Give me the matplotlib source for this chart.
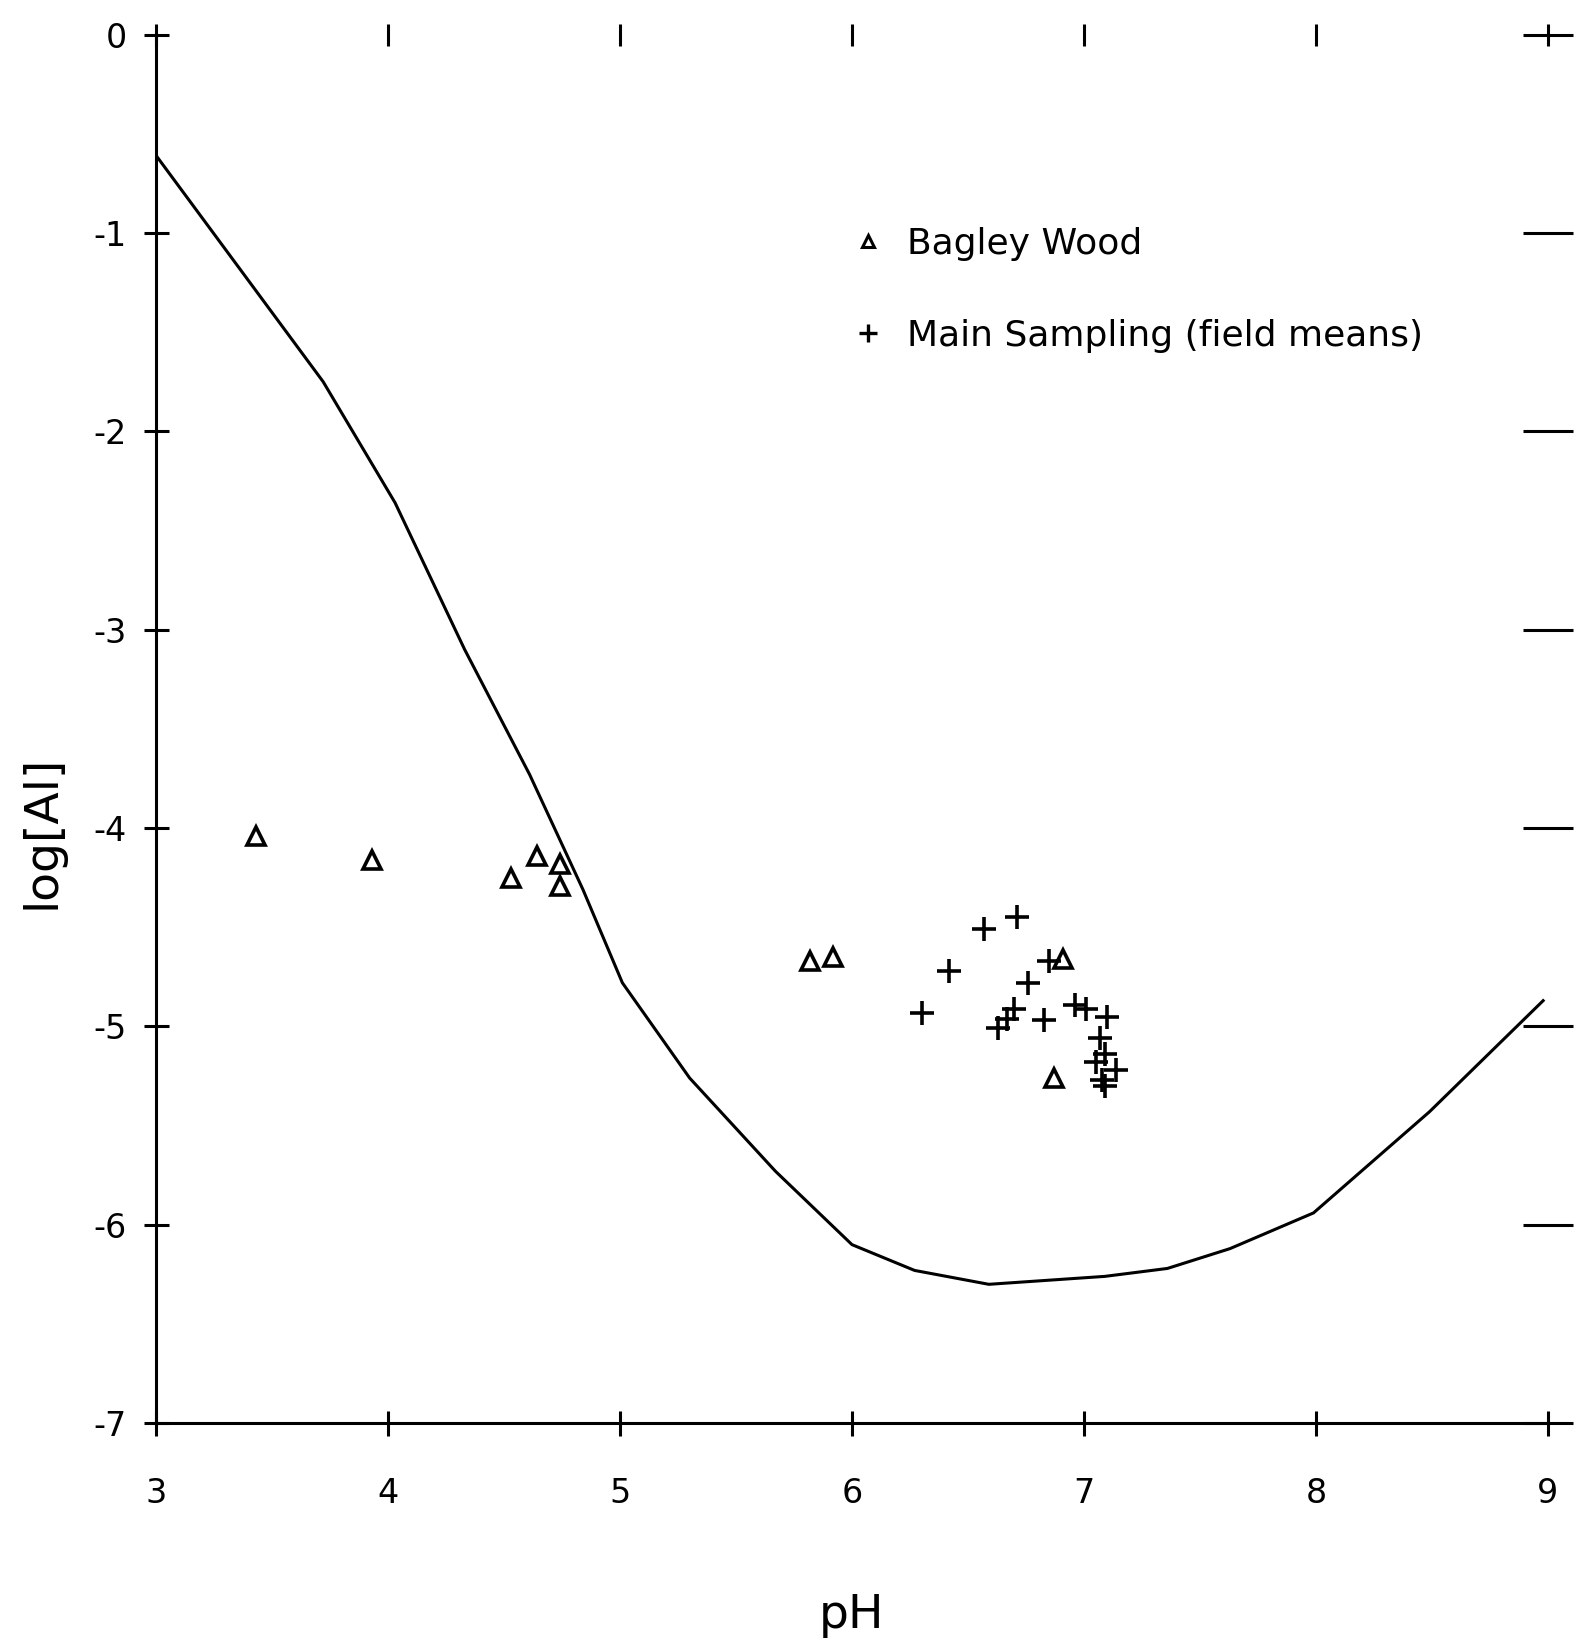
import numpy as np
import matplotlib
matplotlib.use("Agg")
import matplotlib.pyplot as plt
from matplotlib.lines import Line2D

# solubility curve of Al vs pH
curve_ph = [3.0, 3.72, 4.03, 4.33, 4.61, 4.84, 5.01, 5.30, 5.67, 6.0, 6.27,
            6.59, 7.09, 7.36, 7.63, 7.99, 8.49, 8.98]
curve_al = [-0.61, -1.75, -2.36, -3.10, -3.73, -4.31, -4.78, -5.26, -5.73,
            -6.10, -6.23, -6.30, -6.26, -6.22, -6.12, -5.94, -5.43, -4.87]

# Bagley Wood samples
bagley_ph = [3.43, 3.93, 4.53, 4.64, 4.74, 4.74, 5.82, 5.92, 6.91, 6.87]
bagley_al = [-4.04, -4.16, -4.25, -4.14, -4.18, -4.29, -4.67, -4.65, -4.66, -5.26]

# Main sampling field means
main_ph = [6.30, 6.42, 6.57, 6.71, 6.85, 6.76, 6.70, 6.67, 6.63, 6.83, 6.96,
           7.01, 7.10, 7.07, 7.09, 7.05, 7.14, 7.08, 7.09]
main_al = [-4.93, -4.72, -4.51, -4.45, -4.67, -4.78, -4.91, -4.96, -5.01, -4.97,
           -4.89, -4.91, -4.95, -5.06, -5.14, -5.18, -5.22, -5.27, -5.30]

x_ticks = [3, 4, 5, 6, 7, 8, 9]
y_ticks = [0, -1, -2, -3, -4, -5, -6, -7]

plt.rcParams['font.family'] = ['DejaVu Sans']
plt.rcParams['axes.unicode_minus'] = False

fig = plt.figure(figsize=(15.94, 16.51), dpi=100)
ax = fig.add_axes([0.098, 0.138, 0.873, 0.841])

ax.plot(curve_ph, curve_al, color='black', lw=2.2)
ax.plot(bagley_ph, bagley_al, ls='none', marker='^', ms=13, mfc='white',
        mec='black', mew=2.6)
ax.plot(main_ph, main_al, ls='none', marker='+', ms=17, color='black', mew=2.6)

ax.set_xlim(3, 9)
ax.set_ylim(-7, 0)

ax.spines['top'].set_visible(False)
ax.spines['right'].set_visible(False)
ax.spines['left'].set_linewidth(2.2)
ax.spines['bottom'].set_linewidth(2.2)

ax.set_xticks(x_ticks)
ax.set_yticks(y_ticks)
ax.tick_params(axis='both', direction='inout', length=18, width=2.2,
               labelsize=24, top=True, right=True)
ax.tick_params(axis='x', pad=30)
ax.tick_params(axis='y', pad=12)
ax.tick_params(axis='x', which='both', labeltop=False)
ax.tick_params(axis='y', which='both', labelright=False)
for t in ax.xaxis.get_major_ticks():
    t.tick2line.set_markersize(16)
for t in ax.yaxis.get_major_ticks():
    t.tick2line.set_markersize(36)
    t.tick2line.set_markeredgewidth(2.2)

ax.set_xlabel('pH', fontsize=34)
ax.set_ylabel('log[Al]', fontsize=34)
ax.xaxis.set_label_coords(0.5, -0.122)
ax.yaxis.set_label_coords(-0.066, 0.426)

handles = [
    Line2D([], [], ls='none', marker='^', ms=9, mfc='white', mec='black', mew=2.2),
    Line2D([], [], ls='none', marker='+', ms=13, color='black', mew=2.4),
]
ax.legend(handles, ['Bagley Wood', 'Main Sampling (field means)'],
          loc='upper left', bbox_to_anchor=(0.475, 0.885), frameon=False,
          fontsize=26, labelspacing=1.6, handlelength=1.0, handletextpad=0.6)

fig.savefig('out.png', dpi=100, facecolor='white')
